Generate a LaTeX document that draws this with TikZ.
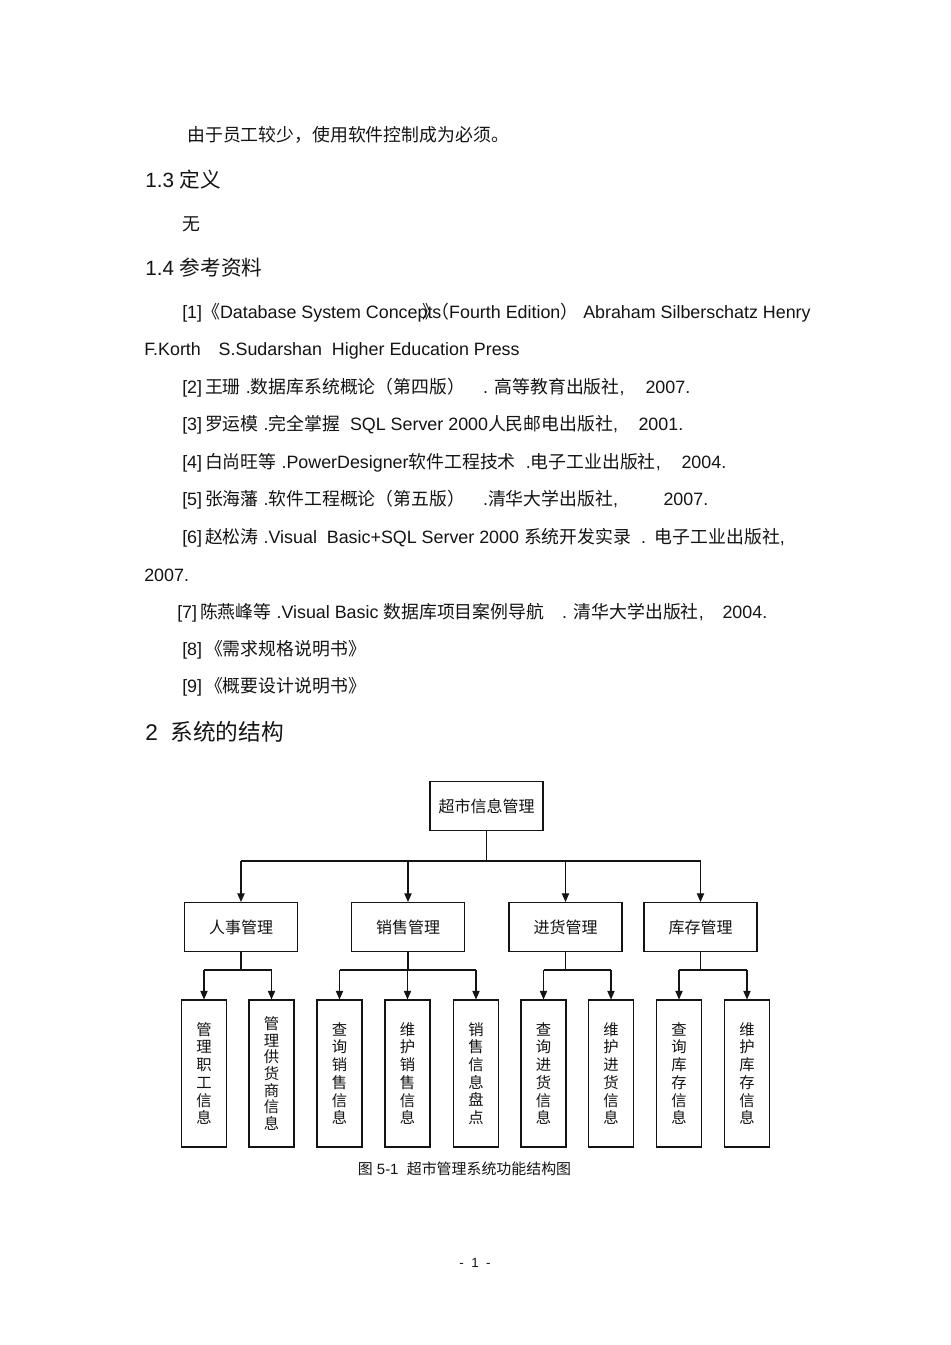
\documentclass[tikz,border=0pt]{standalone}
\usepackage{fontspec}
\setmainfont{Liberation Sans}
\newfontfamily\zhfont{Noto Sans CJK SC}
\newcommand\zh[1]{{\zhfont #1}}
\usepackage{tikz}
\usetikzlibrary{arrows.meta,positioning}
\definecolor{PageInk}{HTML}{141414}

\begin{document}
\begin{tikzpicture}[x=.75pt,y=-.75pt]
  \path[use as bounding box,fill=white] (0,0) rectangle (950,1345);

  \tikzset{
    smBody/.style={
      anchor=base west,
      inner sep=0pt,
      text=PageInk,
      font=\fontsize{13.4}{15}\selectfont
    },
    smHead/.style={
      smBody,
      font=\fontsize{15.5}{18}\selectfont
    },
    smTitle/.style={
      smBody,
      font=\fontsize{17}{20}\selectfont
    },
    smFuncBox/.style={
      draw=PageInk,
      line width=.8pt,
      minimum width=84.75pt,
      minimum height=36.75pt,
      inner sep=0pt,
      text=PageInk,
      font=\zhfont\fontsize{12}{14}\selectfont
    },
    smLeafBox/.style={
      draw=PageInk,
      line width=.8pt,
      minimum width=33.75pt,
      minimum height=110.25pt,
      text width=14pt,
      inner sep=0pt,
      align=center,
      text=PageInk,
      font=\zhfont\fontsize{11.5}{13.3}\selectfont
    },
    smLink/.style={
      draw=PageInk,
      line width=.8pt
    },
    smArrow/.style={
      smLink,
      -{Triangle[length=6.5pt,width=5.5pt]}
    }
  }

  % 正文
  \node[smBody] (intro) at (187,141.5) {\zh{由于员工较少，使用软件控制成为必须。}};
  \node[smHead] (secDef) at (145,187.3) {1.3 \zh{定义}};
  \node[smBody] (defNone) at (182,230) {\zh{无}};
  \node[smHead] (secRef) at (145,275.7) {1.4 \zh{参考资料}};
  \node[smBody] (refOne) at (182,318)
    {[1]\zh{《}Database System Concepts\kern-14pt\zh{》}\kern-7pt\zh{（}Fourth Edition\zh{）}\ Abraham Silberschatz Henry};
  \node[smBody] (refOneTail) at (144,355.5)
    {F.Korth\quad S.Sudarshan\ \ Higher Education Press};
  \node[smBody] (refTwo) at (182,393)
    {\hbox to 381pt{[2]\,\zh{王珊} .\zh{数据库系统概论（第四版）}\quad . \zh{高等教育出版社},\ \hfil 2007.}};
  \node[smBody] (refThree) at (182,430.5)
    {\hbox to 375.75pt{[3]\,\zh{罗运模} .\zh{完全掌握}\ \ SQL Server 2000\zh{人民邮电出版社},\ \hfil 2001.}};
  \node[smBody] (refFour) at (182,468)
    {\hbox to 408pt{[4]\,\zh{白尚旺等} .PowerDesigner\zh{软件工程技术} \ .\zh{电子工业出版社},\ \hfil 2004.}};
  \node[smBody] (refFive) at (182,505.5)
    {\hbox to 394.5pt{[5]\,\zh{张海藩} .\zh{软件工程概论（第五版）}\quad .\zh{清华大学出版社},\ \hfil 2007.}};
  \node[smBody] (refSix) at (182,543)
    {\hbox to 452pt{[6]\,\zh{赵松涛} .Visual\ \ Basic+SQL Server 2000 \zh{系统开发实录} \ .\ \hfil\zh{电子工业出版社},}};
  \node[smBody] (refSixTail) at (144,581.5) {2007.};
  \node[smBody] (refSeven) at (177,618)
    {\hbox to 442.5pt{[7]\,\zh{陈燕峰等} .Visual Basic \zh{数据库项目案例导航}\quad . \zh{清华大学出版社},\ \hfil 2004.}};
  \node[smBody] (refEight) at (182,655) {[8]\,\zh{《需求规格说明书》}};
  \node[smBody] (refNine) at (182,692) {[9]\,\zh{《概要设计说明书》}};
  \node[smTitle] (secSys) at (145,740) {2\ \ \zh{系统的结构}};

  % 功能结构图
  \node[smFuncBox] (root) at (486.5,806) {超市信息管理};
  \node[smFuncBox] (staff) at (241,927) {人事管理};
  \node[smFuncBox] (sales) at (408,927) {销售管理};
  \node[smFuncBox] (purchase) at (565.5,927) {进货管理};
  \node[smFuncBox] (stock) at (700.5,927) {库存管理};

  \node[smLeafBox] (staffInfo) at (204,1073.5) {管\\理\\职\\工\\信\\息};
  \node[smLeafBox,font=\zhfont\fontsize{11.5}{12.5}\selectfont] (supplierInfo) at (271.5,1073.5)
    {管\\理\\供\\货\\商\\信\\息};
  \node[smLeafBox] (salesQuery) at (339.5,1073.5) {查\\询\\销\\售\\信\\息};
  \node[smLeafBox] (salesEdit) at (407.5,1073.5) {维\\护\\销\\售\\信\\息};
  \node[smLeafBox] (salesCheck) at (476,1073.5) {销\\售\\信\\息\\盘\\点};
  \node[smLeafBox] (purchaseQuery) at (543.5,1073.5) {查\\询\\进\\货\\信\\息};
  \node[smLeafBox] (purchaseEdit) at (611,1073.5) {维\\护\\进\\货\\信\\息};
  \node[smLeafBox] (stockQuery) at (679,1073.5) {查\\询\\库\\存\\信\\息};
  \node[smLeafBox] (stockEdit) at (747,1073.5) {维\\护\\库\\存\\信\\息};

  % 第一层分支
  \coordinate (rootBus) at (486.5,861);
  \draw[smLink] (root.south) -- (rootBus);
  \draw[smLink] (staff.north |- rootBus) -- (stock.north |- rootBus);
  \draw[smArrow] (staff.north |- rootBus) -- (staff.north);
  \draw[smArrow] (sales.north |- rootBus) -- (sales.north);
  \draw[smArrow] (purchase.north |- rootBus) -- (purchase.north);
  \draw[smArrow] (stock.north |- rootBus) -- (stock.north);

  % 第二层分支
  \coordinate (staffBus) at (241,970);
  \draw[smLink] (staff.south) -- (staffBus);
  \draw[smLink] (staffInfo.north |- staffBus) -- (supplierInfo.north |- staffBus);
  \draw[smArrow] (staffInfo.north |- staffBus) -- (staffInfo.north);
  \draw[smArrow] (supplierInfo.north |- staffBus) -- (supplierInfo.north);

  \coordinate (salesBus) at (408,970);
  \draw[smLink] (sales.south) -- (salesBus);
  \draw[smLink] (salesQuery.north |- salesBus) -- (salesCheck.north |- salesBus);
  \draw[smArrow] (salesQuery.north |- salesBus) -- (salesQuery.north);
  \draw[smArrow] (salesEdit.north |- salesBus) -- (salesEdit.north);
  \draw[smArrow] (salesCheck.north |- salesBus) -- (salesCheck.north);

  \coordinate (purchaseBus) at (565.5,970);
  \draw[smLink] (purchase.south) -- (purchaseBus);
  \draw[smLink] (purchaseQuery.north |- purchaseBus) -- (purchaseEdit.north |- purchaseBus);
  \draw[smArrow] (purchaseQuery.north |- purchaseBus) -- (purchaseQuery.north);
  \draw[smArrow] (purchaseEdit.north |- purchaseBus) -- (purchaseEdit.north);

  \coordinate (stockBus) at (700.5,970);
  \draw[smLink] (stock.south) -- (stockBus);
  \draw[smLink] (stockQuery.north |- stockBus) -- (stockEdit.north |- stockBus);
  \draw[smArrow] (stockQuery.north |- stockBus) -- (stockQuery.north);
  \draw[smArrow] (stockEdit.north |- stockBus) -- (stockEdit.north);

  \node[smBody,anchor=base,font=\fontsize{11.2}{13}\selectfont] (caption) at (464.5,1174)
    {\zh{图} 5-1\ \ \zh{超市管理系统功能结构图}};
  \node[smBody,anchor=base,font=\fontsize{10}{12}\selectfont] (pageNo) at (475,1267) {-\ \ 1\ \ -};
\end{tikzpicture}
\end{document}
